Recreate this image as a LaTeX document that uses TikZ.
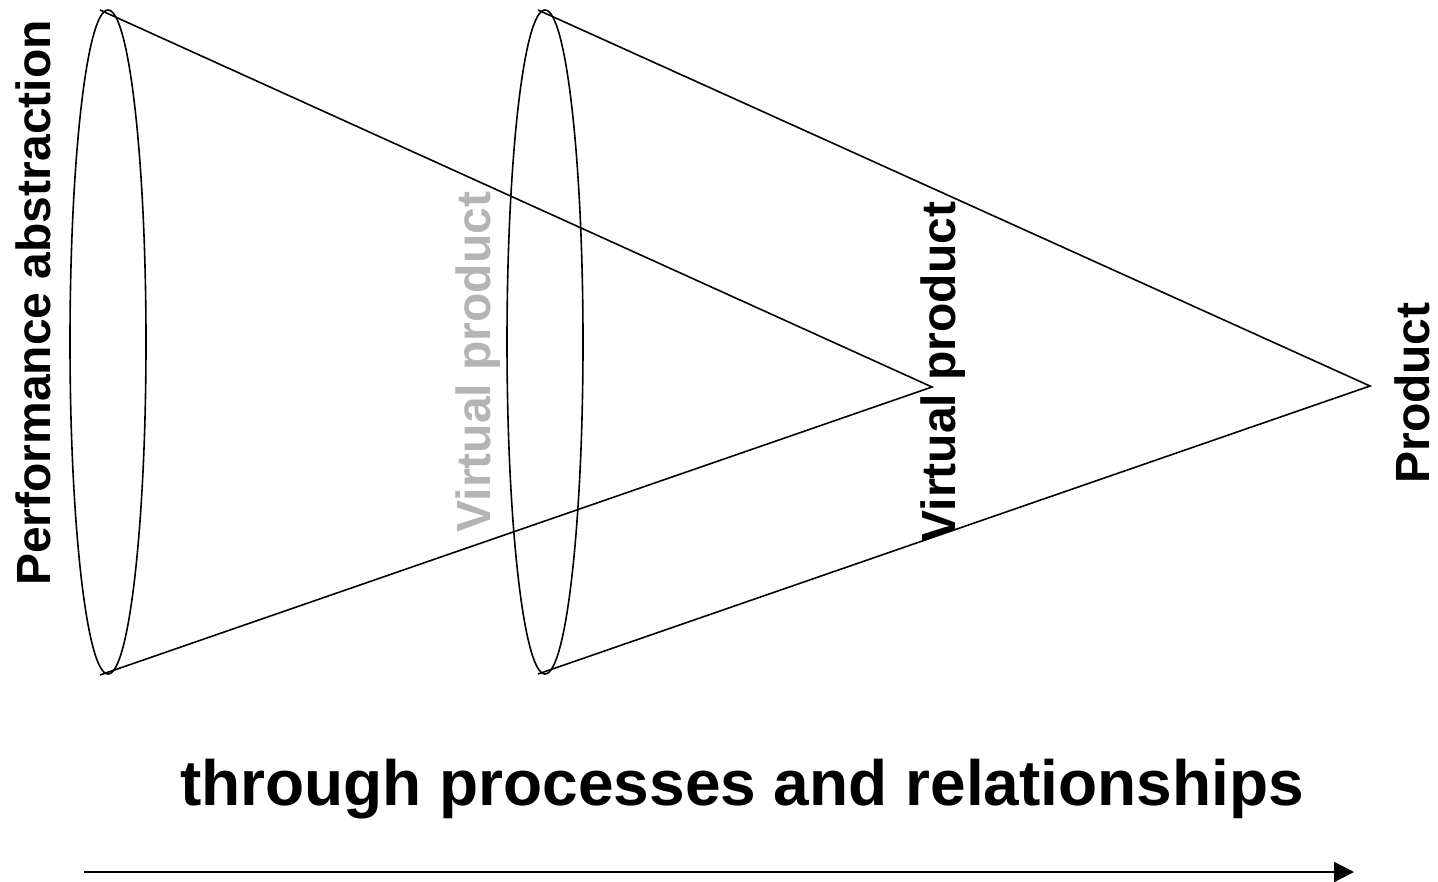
\documentclass[tikz,border=0pt]{standalone}
\usepackage{fontspec}
\setmainfont{Liberation Sans}
\usetikzlibrary{arrows.meta}
\begin{document}
\begin{tikzpicture}[x=0.5pt,y=-0.5pt,
  conel/.style={line width=0.8pt,black},
  vlabel/.style={font=\bfseries\fontsize{24}{28}\selectfont,rotate=90,anchor=base,inner sep=0pt},
  title/.style={font=\bfseries\fontsize{32}{38}\selectfont,anchor=base,inner sep=0pt}]
\useasboundingbox (0,0) rectangle (1438,882);
% cone 1
\coordinate (t1) at (100,10);
\coordinate (b1) at (100,675);
\coordinate (tip1) at (932,387);
\draw[conel] (108,342) ellipse [x radius=38, y radius=332];
\draw[conel] (t1) -- (tip1) -- (b1);
% cone 2
\coordinate (t2) at (538,10);
\coordinate (b2) at (538,674);
\coordinate (tip2) at (1370,386);
\draw[conel] (545,342) ellipse [x radius=38, y radius=332];
\draw[conel] (t2) -- (tip2) -- (b2);
% labels
\node[vlabel] (pa) at (50,303) {Performance abstraction};
\node[vlabel,text={rgb,255:red,180;green,180;blue,180}] (vp1) at (490,362) {Virtual product};
\node[vlabel] (vp2) at (955,372) {Virtual product};
\node[vlabel] (pr) at (1429,393) {Product};
\node[title] (tt) at (742,805) {through processes and relationships};
% arrow
\coordinate (a0) at (84,872);
\coordinate (a1) at (1354,872);
\draw[line width=1pt,-{Triangle[length=10pt,width=10pt]}] (a0) -- (a1);
\end{tikzpicture}
\end{document}
